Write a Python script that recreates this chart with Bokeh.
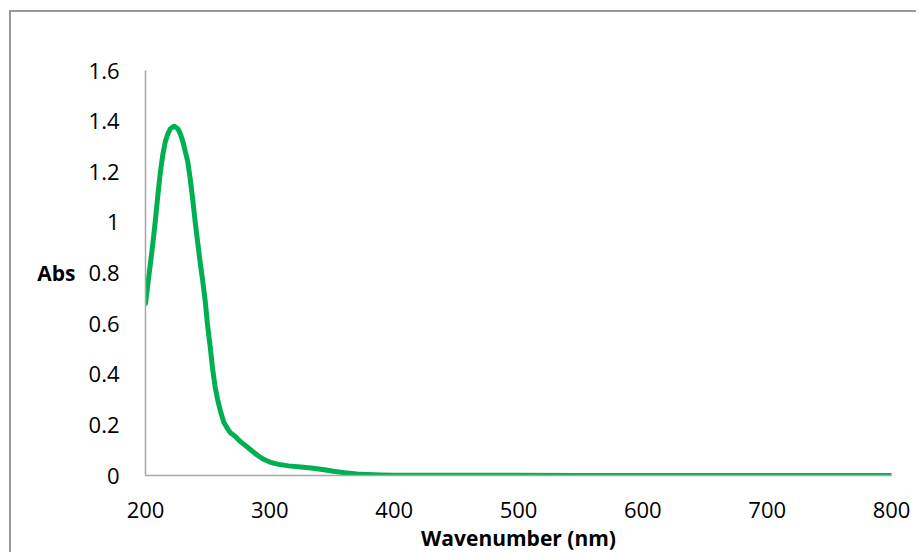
from bokeh.plotting import figure
from bokeh.models import Range1d, FixedTicker
from bokeh.embed import file_html
from bokeh.resources import INLINE

wavelength = [200, 202, 204, 206, 208, 210, 212, 214, 216, 218, 220, 223, 226, 228, 230,
              232, 234, 236, 238, 240, 242, 244, 246, 248, 250, 252, 254, 256, 258, 260,
              263, 266, 268, 272, 276, 280, 285, 290, 295, 300, 306, 315, 325, 335, 345,
              351, 360, 370, 378, 390, 400, 450, 500, 550, 600, 650, 700, 750, 800]
absorbance = [0.68, 0.76, 0.84, 0.92, 1.01, 1.11, 1.2, 1.27, 1.32, 1.35, 1.37, 1.38, 1.37, 1.35, 1.32,
              1.28, 1.24, 1.17, 1.09, 1.0, 0.92, 0.84, 0.77, 0.69, 0.59, 0.51, 0.42, 0.35, 0.30, 0.26,
              0.21, 0.185, 0.17, 0.155, 0.135, 0.12, 0.10, 0.08, 0.064, 0.053, 0.045, 0.038, 0.034, 0.029, 0.022,
              0.017, 0.011, 0.006, 0.004, 0.002, 0.001, 0.0008, 0.0005, 0.0003, 0.0002, 0.0001, 0.0, 0.0, 0.0]

x_ticks = [200, 300, 400, 500, 600, 700, 800]
y_ticks = [0, 0.2, 0.4, 0.6, 0.8, 1.0, 1.2, 1.4, 1.6]
y_tick_labels = {0: "0", 0.2: "0.2", 0.4: "0.4", 0.6: "0.6", 0.8: "0.8", 1.0: "1",
                 1.2: "1.2", 1.4: "1.4", 1.6: "1.6"}

FONT = "Open Sans"

p = figure(width=907, height=542, output_backend="svg", toolbar_location=None,
           x_range=Range1d(200, 800), y_range=Range1d(0, 1.6),
           min_border_left=134, min_border_right=27, min_border_top=58, min_border_bottom=73)

p.styles = {"margin-left": "9px", "margin-top": "10px",
            "border-top": "2px solid #999999", "border-left": "2px solid #999999"}

p.outline_line_color = None
p.xgrid.grid_line_color = None
p.ygrid.grid_line_color = None
p.background_fill_color = "white"
p.border_fill_color = "white"

p.line(wavelength, absorbance, line_color="#00B050", line_width=5, line_cap="round", line_join="round")

for ax in (p.xaxis, p.yaxis):
    ax.axis_line_color = "#A6A6A6"
    ax.axis_line_width = 1.5
    ax.major_tick_line_color = None
    ax.minor_tick_line_color = None
    ax.major_tick_out = 0
    ax.major_tick_in = 0
    ax.major_label_text_font = FONT
    ax.major_label_text_font_size = "22px"
    ax.major_label_text_color = "black"

p.xaxis.ticker = FixedTicker(ticks=x_ticks)
p.yaxis.ticker = FixedTicker(ticks=y_ticks)
p.yaxis.major_label_overrides = y_tick_labels
p.yaxis.major_label_standoff = 26
p.xaxis.major_label_standoff = 26

p.xaxis.axis_label = "Wavenumber (nm)"
p.xaxis.axis_label_text_font = FONT
p.xaxis.axis_label_text_font_style = "bold"
p.xaxis.axis_label_text_font_size = "21px"
p.xaxis.axis_label_text_color = "black"
p.xaxis.axis_label_standoff = 3

p.yaxis.axis_label = "Abs"
p.yaxis.axis_label_text_font = FONT
p.yaxis.axis_label_text_font_style = "bold"
p.yaxis.axis_label_text_font_size = "21px"
p.yaxis.axis_label_text_color = "black"
p.yaxis.axis_label_standoff = 10
try:
    p.yaxis.axis_label_orientation = "horizontal"
except Exception:
    pass

open("out.html", "w").write(file_html(p, INLINE))
